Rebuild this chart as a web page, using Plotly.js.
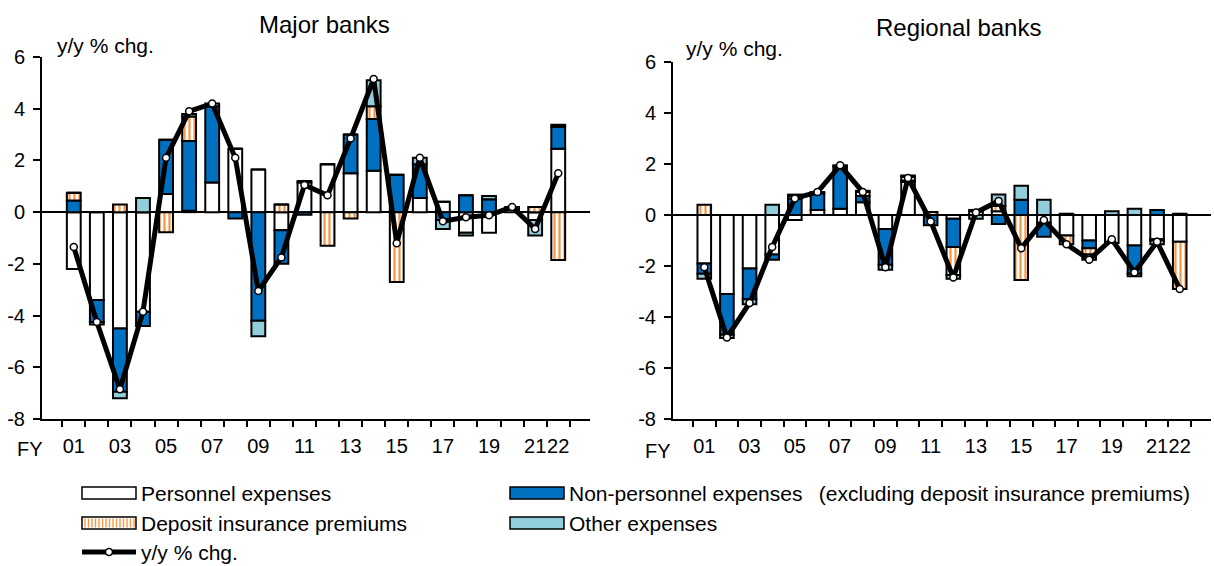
<!DOCTYPE html>
<html>
<head>
<meta charset="utf-8">
<script src="https://cdn.plot.ly/plotly-3.0.1.min.js"></script>
<style>html,body{margin:0;padding:0;background:#fff;}#chart{width:1214px;height:566px;}</style>
</head>
<body>
<div id="chart"></div>
<script>
// ---------- data ----------
const categories = ['01','02','03','04','05','06','07','08','09','10','11','12','13','14','15','16','17','18','19','20','21','22'];
const tickLabels = ['01','','03','','05','','07','','09','','11','','13','','15','','17','','19','','21','22'];
const yTickVals = [-8,-6,-4,-2,0,2,4,6];
const yTickText = ['-8','-6','-4','-2','0','2','4','6'];

// Major banks
const majorPersonnel = [-2.2,-3.4,-4.5,-3.85,0.7,0.05,1.15,2.45,1.65,-0.7,1.15,1.85,1.5,1.6,0,0.55,0.4,-0.8,-0.8,0.1,-0.3,2.45];
const majorNonPersonnel = [0.45,-0.85,-2.45,-0.55,2.1,2.7,2.95,-0.25,-4.2,-1.3,-0.1,0,1.5,2.0,1.45,1.3,-0.3,0.65,0.5,0.1,0,0.85];
const majorDeposit = [0.3,0,0.3,0,-0.78,0.95,0,0,0,0.3,0.05,-1.3,-0.25,0.5,-2.7,0,0,0,0,0,0.2,-1.85];
const majorOther = [0,-0.1,-0.25,0.55,0,0.1,0.1,0,-0.6,0,0,0,0,1.0,0,0.25,-0.35,-0.1,0.12,0,-0.6,0.08];
const majorTotal = [-1.35,-4.25,-6.85,-3.85,2.1,3.9,4.2,2.1,-3.05,-1.75,1.05,0.65,2.85,5.15,-1.2,2.1,-0.35,-0.2,-0.12,0.2,-0.65,1.5];

// Regional banks
const regPersonnel = [-1.9,-3.1,-2.1,-1.55,-0.2,0.2,0.25,0.5,-0.55,1.3,0,-0.15,0.15,0.15,0,-0.3,-0.8,-1.0,-1.1,-1.2,-0.95,-1.05];
const regNonPersonnel = [-0.4,-1.6,-1.2,-0.2,0.65,0.65,1.65,0.25,-1.4,0.05,-0.4,-1.1,0.05,-0.35,0.6,-0.55,0,-0.3,0,-1.1,0.2,0];
const regDeposit = [0.4,0,0,0,0.1,0,0,0.15,0,0.15,0.12,-1.1,0,0.2,-2.55,0,-0.35,-0.25,0,-0.1,-0.05,-1.85];
const regOther = [-0.2,-0.12,-0.2,0.4,0.05,0.05,0.05,0.05,-0.2,0.05,0,-0.15,-0.15,0.45,0.55,0.6,0.05,-0.2,0.15,0.25,-0.15,0.05];
const regTotal = [-2.05,-4.8,-3.45,-1.25,0.65,0.9,1.95,0.9,-2.05,1.45,-0.25,-2.45,0.1,0.55,-1.3,-0.2,-1.15,-1.75,-0.95,-2.25,-1.05,-2.9];

const seriesNames = ['Personnel expenses','Non-personnel expenses\u2002 (excluding deposit insurance premiums)','Deposit insurance premiums','Other expenses','y/y % chg.'];

// ---------- styles ----------
const FONT = 'Liberation Sans, Arial, sans-serif';
const W = 1214, H = 566;
const COL_BLUE = '#0070C0', COL_LIGHT = '#92CDDC', COL_ORANGE = '#F79646';
const barStyles = [
  {color:'#FFFFFF'},
  {color:COL_BLUE},
  {color:'#FFFFFF', pattern:{shape:'|', fgcolor:COL_ORANGE, bgcolor:'#FFFFFF', size:5, solidity:0.45}},
  {color:COL_LIGHT}
];

function barTraces(seriesList, xa, ya){
  return seriesList.map((vals,i)=>({
    type:'bar', x:categories, y:vals, xaxis:xa, yaxis:ya, name:seriesNames[i], showlegend:false,
    marker:Object.assign({line:{color:'#000', width:2}}, barStyles[i]),
    hoverinfo:'y'
  }));
}
function lineTrace(vals, xa, ya){
  return {type:'scatter', mode:'lines+markers', x:categories, y:vals, xaxis:xa, yaxis:ya, name:seriesNames[4], showlegend:false,
    line:{color:'#000', width:5}, marker:{color:'#fff', size:7, line:{color:'#000', width:1.5}}};
}

const data = [
  ...barTraces([majorPersonnel, majorNonPersonnel, majorDeposit, majorOther], 'x', 'y'),
  lineTrace(majorTotal, 'x', 'y'),
  ...barTraces([regPersonnel, regNonPersonnel, regDeposit, regOther], 'x2', 'y2'),
  lineTrace(regTotal, 'x2', 'y2')
];

function px(x){return x/W;}
function py(y){return 1 - y/H;}

const xCommon = {
  type:'category', tickmode:'array', tickvals:categories, ticktext:tickLabels, tickangle:0,
  tickson:'boundaries', ticks:'outside', ticklen:6, tickwidth:2, tickcolor:'#000',
  showline:true, linecolor:'#000', linewidth:2, showgrid:false, zeroline:false,
  tickfont:{family:FONT, size:20, color:'#000'}, ticklabelstandoff:8, fixedrange:true
};
const yCommon = {
  range:[-8,6], tickmode:'array', tickvals:yTickVals, ticktext:yTickText,
  ticks:'outside', ticklen:7, tickwidth:2, tickcolor:'#000',
  showline:true, linecolor:'#000', linewidth:2, showgrid:false,
  zeroline:true, zerolinecolor:'#000', zerolinewidth:2,
  tickfont:{family:FONT, size:20, color:'#000'}, ticklabelstandoff:4, fixedrange:true
};

const annotations = [
  {text:'Major banks', x:px(324), y:py(25), xref:'paper', yref:'paper', showarrow:false, xanchor:'center', yanchor:'middle', font:{family:FONT, size:24, color:'#000'}},
  {text:'Regional banks', x:px(958), y:py(27), xref:'paper', yref:'paper', showarrow:false, xanchor:'center', yanchor:'middle', font:{family:FONT, size:24, color:'#000'}},
  {text:'y/y % chg.', x:px(55), y:py(45), xref:'paper', yref:'paper', showarrow:false, xanchor:'left', yanchor:'middle', font:{family:FONT, size:21, color:'#000'}},
  {text:'y/y % chg.', x:px(684), y:py(48), xref:'paper', yref:'paper', showarrow:false, xanchor:'left', yanchor:'middle', font:{family:FONT, size:21, color:'#000'}},
  {text:'FY', x:px(30), y:py(449), xref:'paper', yref:'paper', showarrow:false, xanchor:'center', yanchor:'middle', font:{family:FONT, size:20, color:'#000'}},
  {text:'FY', x:px(658), y:py(451), xref:'paper', yref:'paper', showarrow:false, xanchor:'center', yanchor:'middle', font:{family:FONT, size:20, color:'#000'}}
];

// ---------- legend (drawn with shapes + annotations) ----------
const shapes = [];
const legendItems = [
  {name:seriesNames[0], x:82, y:493, kind:'box', fill:'#FFFFFF'},
  {name:seriesNames[1], x:510, y:493, kind:'box', fill:COL_BLUE},
  {name:seriesNames[2], x:82, y:523, kind:'stripe'},
  {name:seriesNames[3], x:510, y:523, kind:'box', fill:COL_LIGHT},
  {name:seriesNames[4], x:82, y:552, kind:'line'}
];
const SW = 54, SH = 12;
legendItems.forEach(it=>{
  if(it.kind==='box' || it.kind==='stripe'){
    shapes.push({type:'rect', xref:'paper', yref:'paper', x0:px(it.x), x1:px(it.x+SW), y0:py(it.y+SH/2), y1:py(it.y-SH/2),
      fillcolor: it.kind==='box'? it.fill : '#FFFFFF', line:{color:'#000', width:1.5}, layer:'above'});
    if(it.kind==='stripe'){
      for(let sx=it.x+3; sx<it.x+SW-1; sx+=3.5){
        shapes.push({type:'line', xref:'paper', yref:'paper', x0:px(sx), x1:px(sx), y0:py(it.y+SH/2-1.5), y1:py(it.y-SH/2+1.5),
          line:{color:COL_ORANGE, width:1.4}, layer:'above'});
      }
    }
  } else {
    shapes.push({type:'line', xref:'paper', yref:'paper', x0:px(it.x), x1:px(it.x+SW), y0:py(it.y), y1:py(it.y), line:{color:'#000', width:5}, layer:'above'});
    shapes.push({type:'circle', xref:'paper', yref:'paper', x0:px(it.x+SW/2-3.5), x1:px(it.x+SW/2+3.5), y0:py(it.y+3.5), y1:py(it.y-3.5),
      fillcolor:'#fff', line:{color:'#000', width:1.5}, layer:'above'});
  }
  annotations.push({text:it.name, x:px(it.x+SW+3), y:py(it.y), xref:'paper', yref:'paper', showarrow:false, xanchor:'left', yanchor:'middle',
    font:{family:FONT, size:21, color:'#000'}});
});

const layout = {
  width:W, height:H, margin:{l:0, r:0, t:0, b:0},
  paper_bgcolor:'#fff', plot_bgcolor:'#fff',
  barmode:'relative', bargap:0.4,
  showlegend:false,
  font:{family:FONT, color:'#000'},
  xaxis:Object.assign({}, xCommon, {domain:[px(42), px(590)], anchor:'y'}),
  yaxis:Object.assign({}, yCommon, {domain:[py(419), py(57)], anchor:'x'}),
  xaxis2:Object.assign({}, xCommon, {domain:[px(673), px(1211)], anchor:'y2'}),
  yaxis2:Object.assign({}, yCommon, {domain:[py(419), py(62)], anchor:'x2'}),
  annotations:annotations,
  shapes:shapes
};

Plotly.newPlot('chart', data, layout, {displayModeBar:false, staticPlot:true});
</script>
</body>
</html>
